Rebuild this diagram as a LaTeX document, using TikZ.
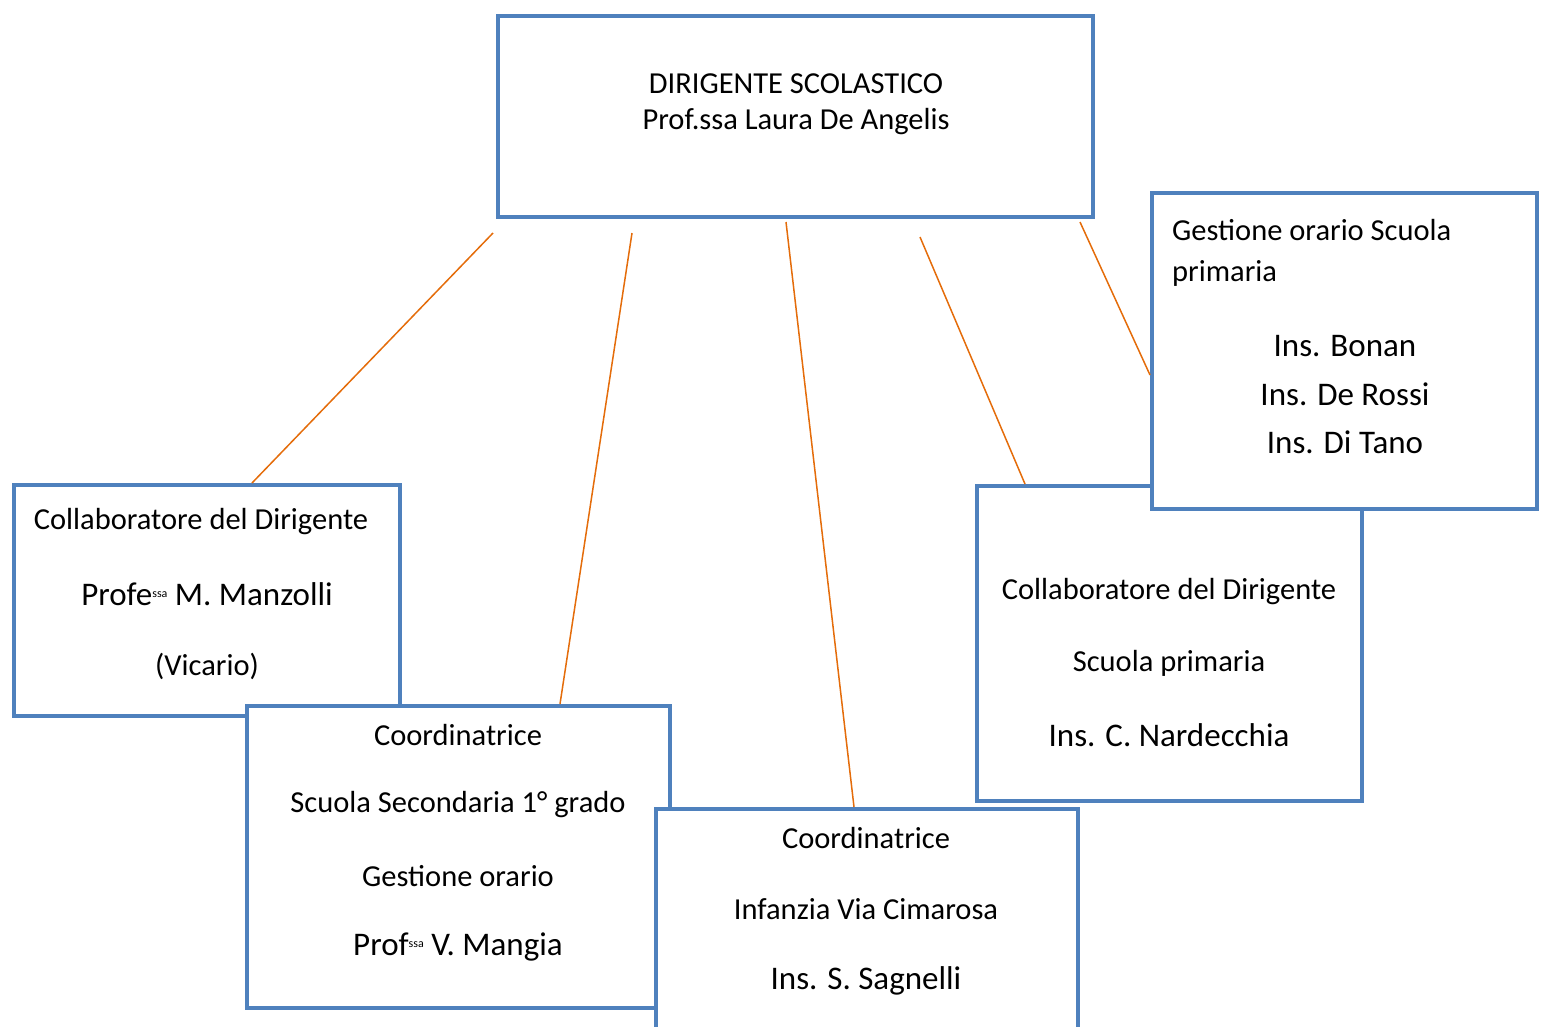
\documentclass[tikz,border=0pt]{standalone}
\usepackage{fontspec}
\setmainfont{Carlito}
\usetikzlibrary{positioning}
\definecolor{boxblue}{HTML}{4F81BD}
\definecolor{linkorange}{HTML}{E46C0A}
\tikzset{
  every picture/.style={line join=miter},
  ruolo/.style={draw=boxblue, line width=4pt, fill=white, inner sep=0pt},
  link/.style={draw=linkorange, line width=1.5pt},
  testo/.style={font=\fontsize{30.5}{36}\selectfont, inner sep=0pt},
  nome/.style={font=\fontsize{33}{39}\selectfont, inner sep=0pt},
}
\newcommand{\ssa}{\raisebox{8pt}{\fontsize{12}{12}\selectfont ssa}}

\begin{document}
\begin{tikzpicture}[x=1pt,y=-1pt]
\useasboundingbox (0,0) rectangle (1541,1026);
% boxes, in the order they overlap
\node[ruolo,minimum width=595,minimum height=201](dir) at (795.5,116.5){};
\node[ruolo,minimum width=386,minimum height=231](vic) at (207,600.5){};
\node[ruolo,minimum width=423,minimum height=302](sec) at (458.5,857){};
\node[ruolo,minimum width=422,minimum height=227](inf) at (867,922.5){};
\node[ruolo,minimum width=385,minimum height=315](pri) at (1169.5,643.5){};
\node[ruolo,minimum width=385,minimum height=316](ges) at (1344.5,351){};
% links
\draw[link]([shift={(-3,14)}]dir.south west)--([xshift=240pt]vic.north west);
\draw[link]([shift={(136,14)}]dir.south west)--([xshift=315pt]sec.north west);
\draw[link]([shift={(290,3)}]dir.south west)--([xshift=200pt]inf.north west);
\draw[link]([shift={(424,18)}]dir.south west)--([xshift=50pt]pri.north west);
\draw[link]([shift={(-15,3)}]dir.south east)--([yshift=-24pt]ges.west);
% texts
\node[testo](dir1) at (796,84){DIRIGENTE SCOLASTICO};
\node[testo](dir2) at (796,122){Prof.ssa Laura De Angelis};
\node[testo](vic1) at (201,522){Collaboratore del Dirigente};
\node[nome](vic2) at (207,594){Profe\ssa{} M. Manzolli};
\node[testo](vic3) at (207,666){(Vicario)};
\node[testo](sec1) at (458,735){Coordinatrice};
\node[testo](sec2) at (458,805){Scuola Secondaria 1° grado};
\node[testo](sec3) at (458,876){Gestione orario};
\node[nome](sec4) at (458,947){Prof\ssa{} V. Mangia};
\node[testo](inf1) at (866,838){Coordinatrice};
\node[testo](inf2) at (866,909){Infanzia Via Cimarosa};
\node[nome](inf3) at (866,981){Ins. S. Sagnelli};
\node[testo](pri1) at (1169,592){Collaboratore del Dirigente};
\node[testo](pri2) at (1169,663){Scuola primaria};
\node[nome](pri3) at (1169,735){Ins. C. Nardecchia};
\node[testo,anchor=west](ges1) at (1172,230){Gestione orario Scuola};
\node[testo,anchor=west](ges2) at (1172,273){primaria};
\node[nome](ges3) at (1345,346){Ins. Bonan};
\node[nome](ges4) at (1345,394){Ins. De Rossi};
\node[nome](ges5) at (1345,442){Ins. Di Tano};
\end{tikzpicture}
\end{document}
